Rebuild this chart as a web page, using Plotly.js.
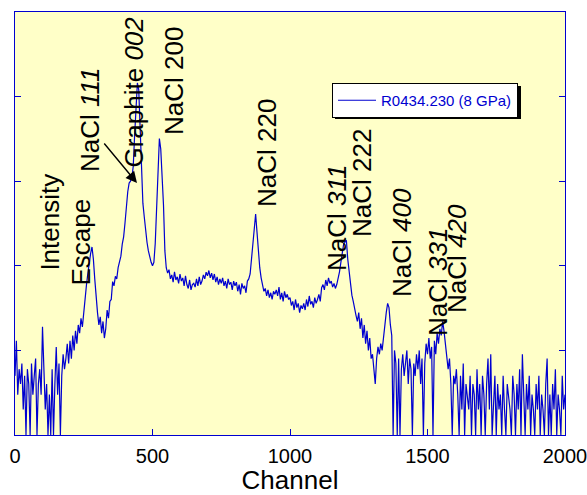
<!DOCTYPE html>
<html>
<head>
<meta charset="utf-8">
<script src="https://cdn.plot.ly/plotly-3.0.1.min.js"></script>
<style>html,body{margin:0;padding:0;background:#fff;}#chart{width:587px;height:495px;}</style>
</head>
<body>
<div id="chart"></div>
<script>
// Spectrum: counts per channel, sampled every 5 channels starting at channel 0
const CH_START = 0;
const CH_STEP = 5;
const counts = [
  5, 13, 3, 6, 4, 7, 2, 5, 1, 6,
  4, 1, 7, 3, 5, 8, 1, 4, 6, 3,
  19, 5, 2, 4, 1, 3, 1, 6, 1, 4,
  11, 3, 7, 1, 5, 9, 6, 8, 12, 7,
  13, 8, 15, 10, 17, 12, 20, 16, 24, 19,
  30, 43, 60, 82, 110, 140, 167, 120, 70, 40,
  28, 20, 25, 16, 22, 14, 18, 30, 24, 38,
  40, 65, 58, 75, 70, 95, 115, 130, 180, 220,
  320, 500, 750, 950, 1000, 1100, 1500, 3500, 8000, 14500,
  12000, 4000, 1300, 550, 380, 250, 190, 150, 125, 110,
  100, 110, 185, 480, 2000, 3200, 2400, 1200, 520, 150,
  95, 82, 90, 70, 78, 64, 85, 68, 74, 62,
  80, 66, 72, 58, 76, 60, 54, 68, 52, 60,
  62, 56, 70, 58, 74, 60, 66, 78, 70, 84,
  76, 88, 72, 82, 68, 80, 64, 74, 60, 70,
  62, 72, 58, 66, 54, 70, 60, 64, 52, 66,
  58, 64, 50, 60, 46, 62, 54, 58, 48, 66,
  70, 80, 120, 190, 330, 410, 250, 140, 95, 72,
  58, 50, 54, 44, 52, 42, 48, 40, 50, 46,
  52, 44, 56, 40, 48, 38, 50, 42, 46, 40,
  42, 34, 38, 30, 40, 32, 36, 28, 34, 31,
  36, 30, 40, 33, 44, 35, 38, 32, 42, 36,
  40, 46, 38, 55, 60, 52, 68, 58, 72, 62,
  66, 56, 62, 54, 60, 70, 85, 110, 150, 180,
  190, 200, 120, 85, 60, 45, 38, 30, 26, 22,
  28, 18, 24, 14, 20, 12, 17, 10, 14, 8,
  9, 6, 4, 8, 11, 9, 12, 10, 15, 22,
  28, 36, 32, 20, 15, 1, 10, 7, 1, 8,
  1, 6, 9, 5, 7, 10, 4, 8, 6, 1,
  7, 5, 9, 6, 10, 4, 8, 1, 7, 12,
  9, 14, 8, 11, 1, 13, 9, 16, 12, 18,
  15, 22, 17, 12, 9, 6, 8, 4, 1, 5,
  4, 6, 3, 1, 5, 2, 7, 1, 4, 3,
  2, 5, 1, 4, 3, 1, 6, 2, 4, 1,
  5, 3, 1, 4, 8, 2, 9, 1, 3, 5,
  1, 4, 2, 3, 1, 5, 2, 1, 4, 3,
  2, 1, 5, 3, 1, 4, 2, 6, 1, 9,
  3, 1, 4, 2, 5, 1, 3, 2, 1, 4,
  2, 5, 1, 3, 2, 1, 4, 8, 1, 3,
  1, 4, 2, 6, 1, 3, 2, 1, 5, 2,
  3
];
const channels = counts.map((_, i) => CH_START + i * CH_STEP);

const seriesName = 'R0434.230 (8 GPa)';
const xTicks = [0, 500, 1000, 1500, 2000];
const yTicks = [10, 100, 1000, 10000];

const peakLabels = [
  {text: 'Escape', x: 0.1193, y: 0.4563},
  {text: 'NaCl <i>111</i>', x: 0.1364, y: 0.7447},
  {text: 'Graphite <i>002</i>', x: 0.2156, y: 0.8109},
  {text: 'NaCl 200', x: 0.2891, y: 0.8369},
  {text: 'NaCl 220', x: 0.4582, y: 0.6667},
  {text: 'NaCl <i>311</i>', x: 0.5855, y: 0.5130},
  {text: 'NaCl 222', x: 0.6309, y: 0.5957},
  {text: 'NaCl <i>400</i>', x: 0.7036, y: 0.4563},
  {text: 'NaCl <i>331</i>', x: 0.7691, y: 0.3617},
  {text: 'NaCl <i>420</i>', x: 0.8036, y: 0.4184}
];

const BLUE = '#0000D0';
const FONT = '"Liberation Sans", Arial, sans-serif';

const annotations = peakLabels.map(p => ({
  text: p.text, xref: 'paper', yref: 'paper', x: p.x, y: p.y,
  xanchor: 'center', yanchor: 'middle', textangle: -90, showarrow: false,
  font: {family: FONT, size: 26, color: '#000'}
}));
annotations.push({
  text: 'Intensity', xref: 'paper', yref: 'paper', x: 0.0629, y: 0.5035,
  xanchor: 'center', yanchor: 'middle', textangle: -90, showarrow: false,
  font: {family: FONT, size: 26, color: '#000'}
});
annotations.push({
  text: '', xref: 'paper', yref: 'paper', x: 0.2218, y: 0.5957,
  ax: -34, ay: -41, showarrow: true, arrowhead: 2, arrowsize: 1.6,
  arrowwidth: 1.4, arrowcolor: '#000'
});

const trace = {
  x: channels, y: counts, type: 'scatter', mode: 'lines',
  name: seriesName, line: {color: BLUE, width: 1.2}
};

const layout = {
  width: 587, height: 495,
  margin: {l: 15, r: 22, t: 12, b: 60},
  paper_bgcolor: '#ffffff', plot_bgcolor: '#FFFFC8',
  font: {family: FONT, color: '#000'},
  showlegend: true,
  legend: {
    x: 0.5764, y: 0.8322, xanchor: 'left', yanchor: 'top',
    bgcolor: '#ffffff', bordercolor: '#000', borderwidth: 1,
    itemwidth: 38,
    font: {family: FONT, size: 15, color: BLUE}
  },
  xaxis: {
    range: [0, 2000], tickvals: xTicks, ticktext: xTicks.map(String),
    ticks: 'inside', ticklen: 6, tickcolor: BLUE, showline: true,
    linecolor: BLUE, linewidth: 1, mirror: true, showgrid: false, zeroline: false,
    ticklabeloverflow: 'allow', ticklabelstandoff: 3,
    tickfont: {family: FONT, size: 20, color: '#000'},
    title: {text: 'Channel', font: {family: FONT, size: 26, color: '#000'}, standoff: 6}
  },
  yaxis: {
    type: 'log', range: [0, 5], tickvals: yTicks, showticklabels: false,
    ticks: 'inside', ticklen: 6, tickcolor: BLUE, showline: true,
    linecolor: BLUE, linewidth: 1, mirror: 'ticks', showgrid: false, zeroline: false
  },
  shapes: [{
    type: 'rect', xref: 'paper', yref: 'paper', layer: 'above',
    x0: 0.5818, x1: 0.9200, y0: 0.7470, y1: 0.8251,
    fillcolor: '#000', line: {width: 0}
  }],
  annotations: annotations
};

Plotly.newPlot('chart', [trace], layout, {staticPlot: true, displayModeBar: false});
</script>
</body>
</html>
